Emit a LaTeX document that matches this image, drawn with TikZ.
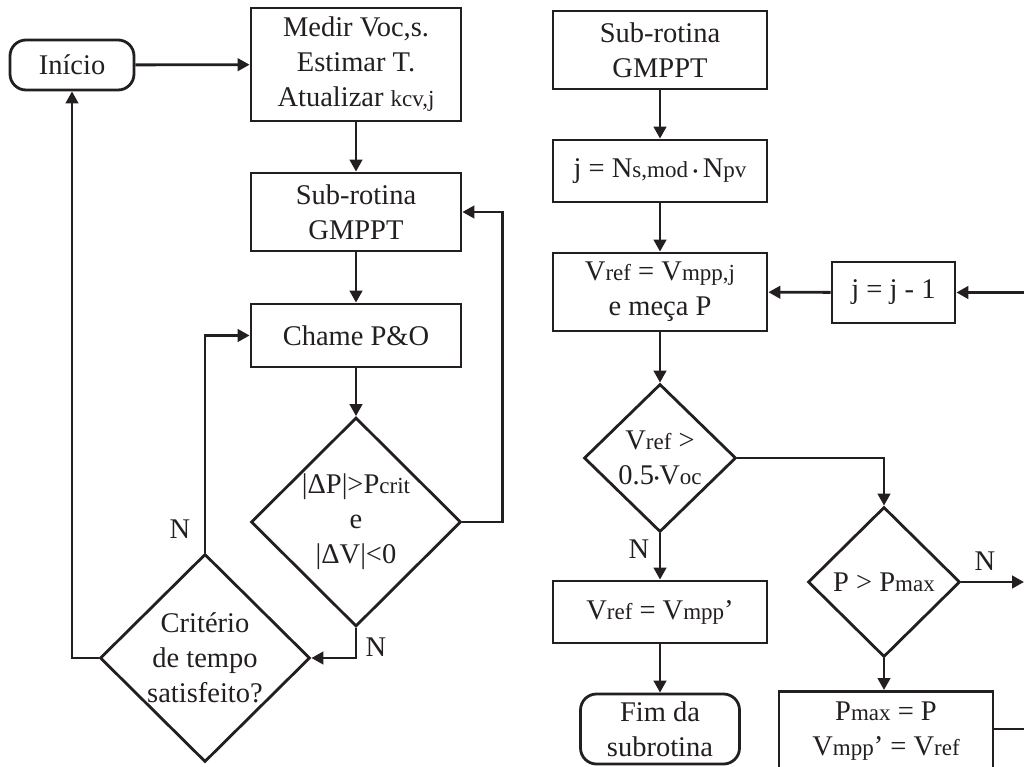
\documentclass[tikz,border=0pt]{standalone}
\usepackage{fontspec}
\setmainfont{Liberation Serif}
\usetikzlibrary{shapes.geometric,arrows.meta}
\definecolor{ink}{HTML}{231F20}
% smaller letters written on the baseline (index-like parts of symbols)
\newcommand\lo[1]{{\fontsize{23}{26}\selectfont #1}}
% product dot
\newcommand\mdot{\raisebox{1pt}{\fontsize{15}{15}\selectfont •}}
\begin{document}
\begin{tikzpicture}[x=1pt,y=-1pt,
  every node/.style={font=\fontsize{28.5}{35}\selectfont, text=ink},
  box/.style={draw=ink, line width=2.8pt, rectangle, align=center, inner sep=0pt},
  term/.style={box, rounded corners=16pt},
  dec/.style={draw=ink, line width=2.8pt, diamond, align=center, inner sep=-6pt, aspect=1},
  flow/.style={draw=ink, line width=2.8pt, -{Triangle[length=12pt,width=12.5pt]}},
  wire/.style={draw=ink, line width=2.8pt},
  lab/.style={inner sep=0pt}]
\useasboundingbox (0,0) rectangle (1024,767);
\fill[white] (0,0) rectangle (1024,767);
\clip (0,0) rectangle (1024,767);

% ---- main loop ----
\node[term, minimum width=124, minimum height=50] (ini) at (72,65) {Início};
\node[box, minimum width=210, minimum height=113] (med) at (356,64.5)
  {Medir Voc,s.\\Estimar T.\\Atualizar \lo{kcv,j}};
\node[box, minimum width=210, minimum height=78] (sub) at (356,212) {Sub-rotina\\GMPPT};
\node[box, minimum width=210, minimum height=63] (cha) at (356,335.5) {Chame P\&O};
\node[dec, minimum width=210, minimum height=209] (d1) at (356,522)
  {|ΔP|>P\lo{crit}\\e\\|ΔV|<0};
\node[dec, minimum width=210, minimum height=208] (d2) at (205,658)
  {Critério\\de tempo\\satisfeito?};

\draw[flow] (ini) -- (med);
\draw[flow] (med) -- (sub);
\draw[flow] (sub) -- (cha);
\draw[flow] (cha) -- (d1);
\draw[flow] (d1.east) -- ++(40,0) |- (sub.east);
\draw[flow] (d1.south) |- (d2.east);
\draw[flow] (d2.north) |- (cha.west);
\draw[flow] (d2.west) -| (ini.south);
\node[lab] at (180,529) {N};
\node[lab] at (376,647) {N};

% ---- GMPPT sub-routine ----
\node[box, minimum width=214, minimum height=78] (sub2) at (660,50) {Sub-rotina\\GMPPT};
\node[box, minimum width=214, minimum height=62] (jb) at (660,171)
  {j = N\lo{s,mod}\,\mdot\,N\lo{pv}};
\node[box, minimum width=214, minimum height=78] (vr) at (660,292)
  {V\lo{ref} = V\lo{mpp,j}\\e meça P};
\node[box, minimum width=123, minimum height=61] (jm) at (893.5,292.5) {j = j - 1};
\node[dec, minimum width=152, minimum height=148] (d3) at (660,458)
  {V\lo{ref} >\\0.5\mdot V\lo{oc}};
\node[dec, minimum width=152, minimum height=150] (d4) at (884,582) {P > P\lo{max}};
\node[box, minimum width=214, minimum height=62] (vm) at (660,612) {V\lo{ref} = V\lo{mpp}’};
\node[term, minimum width=159, minimum height=70] (fim) at (660,729) {Fim da\\subrotina};
\node[box, minimum width=214, minimum height=80, anchor=north] (pm) at (886,690)
  {P\lo{max} = P\\V\lo{mpp}’ = V\lo{ref}};

\coordinate (eA) at (1024,292.5);
\coordinate (eB) at (1024,582);
\coordinate (eC) at (1024,729);

\draw[flow] (sub2) -- (jb);
\draw[flow] (jb) -- (vr);
\draw[flow] (jm) -- (vr);
\draw[flow] (eA) -- (jm);
\draw[flow] (vr) -- (d3);
\draw[flow] (d3.east) -| (d4.north);
\draw[flow] (d3.south) -- (vm.north);
\draw[flow] (vm) -- (fim);
\draw[flow] (d4.east) -- (eB);
\draw[flow] (d4.south) -- (d4.south |- pm.north);
\draw[wire] (pm.east |- eC) -- (eC);
\node[lab] at (639,549) {N};
\node[lab] at (985,561) {N};
\end{tikzpicture}
\end{document}
